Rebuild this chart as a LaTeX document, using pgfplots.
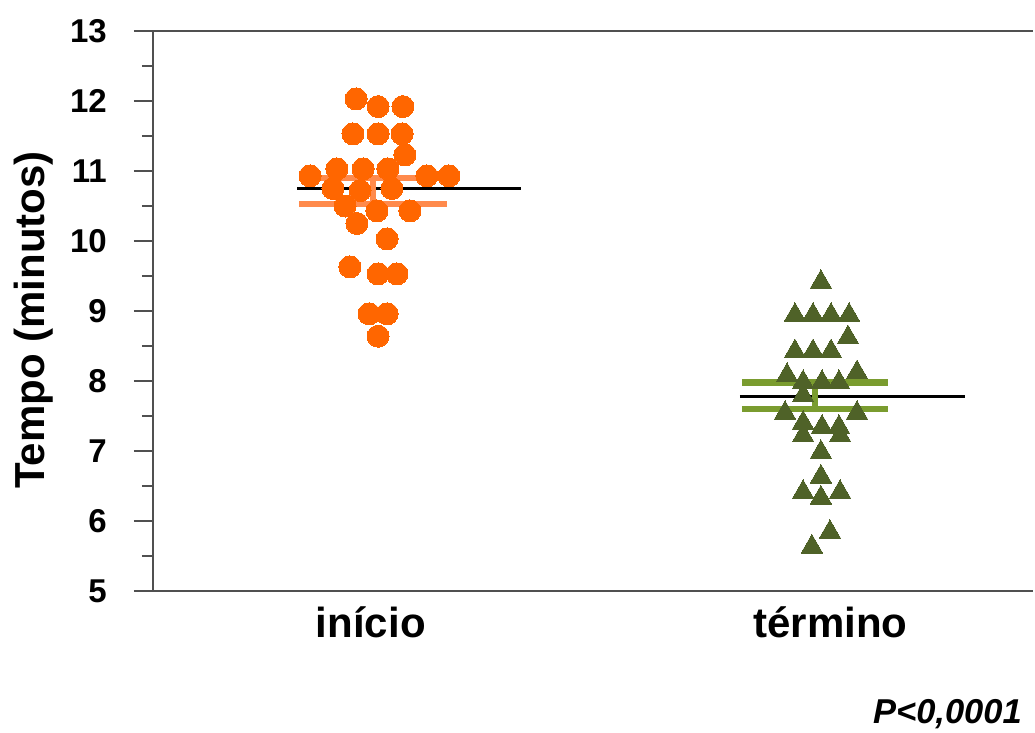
\documentclass[border=0pt]{standalone}
\usepackage{pgfplots}
\pgfplotsset{compat=1.18}
\usepackage{fontspec}
\setmainfont{Liberation Sans}
\definecolor{circ}{HTML}{FF6600}
\definecolor{circbar}{HTML}{FF8A4C}
\definecolor{tri}{HTML}{4F6228}
\definecolor{tribar}{HTML}{7A9C2F}
\definecolor{axgray}{HTML}{505050}
\begin{document}
\begin{tikzpicture}
\useasboundingbox (-153pt,-141pt) rectangle (882pt,591pt);
\begin{axis}[
  scale only axis, width=880pt, height=560pt,
  xmin=0, xmax=4, ymin=5, ymax=13,
  clip=false,
  axis x line*=bottom, axis y line*=left,
  axis line style={axgray, line width=1.6pt, -},
  ytick={5,6,...,13}, minor y tick num=1,
  tick align=outside,
  y tick style={axgray, line width=1.6pt},
  major tick length=19pt, minor tick length=11pt,
  xtick={0.99,3.08}, xticklabels={início,término},
  x tick style={draw=none},
  /pgf/number format/assume math mode=true,
  yticklabel style={font=\fontsize{33}{36}\selectfont\bfseries, inner sep=0pt, anchor=east, xshift=-27pt},
  xticklabel style={font=\fontsize{42}{46}\selectfont\bfseries, inner sep=0pt, anchor=base, yshift=-27pt},
]
\draw[axgray, line width=1.6pt] (rel axis cs:0,1) -- (rel axis cs:1,1);
% mean lines
\addplot[black, line width=3pt, forget plot] coordinates {(0.655,10.75) (1.673,10.75)};
\addplot[black, line width=3pt, forget plot] coordinates {(2.668,7.78) (3.691,7.78)};
% inicio
\addplot[only marks, mark=*, mark size=11pt, mark options={fill=circ, draw=circ, line width=0pt}] coordinates {
(0.923,12.03) (1.023,11.92) (1.136,11.92)
(0.909,11.53) (1.023,11.53) (1.132,11.53)
(1.145,11.23)
(0.714,10.93) (0.836,11.03) (0.955,11.03) (1.068,11.03) (1.245,10.93) (1.345,10.93)
(0.818,10.75) (0.941,10.72) (1.086,10.75)
(0.873,10.50) (1.018,10.43) (1.168,10.43)
(0.927,10.25) (1.064,10.03)
(0.895,9.63) (1.023,9.53) (1.109,9.53)
(0.982,8.96) (1.064,8.96) (1.023,8.64)
};
% termino
\addplot[only marks, mark=triangle*, mark size=12.5pt, mark options={fill=tri, draw=tri, line width=0pt}] coordinates {
(3.036,9.41)
(2.918,8.94) (3.000,8.94) (3.082,8.94) (3.164,8.94)
(3.159,8.62)
(2.918,8.42) (3.000,8.42) (3.082,8.42)
(2.882,8.08) (3.200,8.12)
(2.955,7.98) (3.041,7.98) (3.118,7.98)
(2.955,7.79)
(2.873,7.54) (3.200,7.54)
(2.955,7.40) (3.041,7.34) (3.118,7.34)
(2.955,7.22) (3.123,7.22)
(3.036,6.98) (3.036,6.63)
(2.955,6.41) (3.123,6.41) (3.036,6.33)
(3.077,5.84) (2.995,5.63)
};
% SEM bars
\addplot[circbar, line width=6.5pt] coordinates {(0.664,10.90) (1.336,10.90)};
\addplot[circbar, line width=6.5pt] coordinates {(0.664,10.53) (1.336,10.53)};
\addplot[circbar, line width=6.5pt] coordinates {(1.0,10.53) (1.0,10.90)};
\addplot[tribar, line width=6.5pt] coordinates {(2.677,7.98) (3.341,7.98)};
\addplot[tribar, line width=6.5pt] coordinates {(2.677,7.60) (3.341,7.60)};
\addplot[tribar, line width=6.5pt] coordinates {(3.009,7.60) (3.009,7.98)};
\end{axis}
\node[rotate=90, anchor=base, inner sep=0pt, font=\fontsize{42}{46}\selectfont\bfseries] at (-108pt,271pt) {Tempo (minutos)};
\node[anchor=base east, inner sep=0pt, font=\fontsize{34.5}{38}\selectfont\bfseries\itshape] at (869pt,-132pt) {P<0,0001};
\end{tikzpicture}
\end{document}
